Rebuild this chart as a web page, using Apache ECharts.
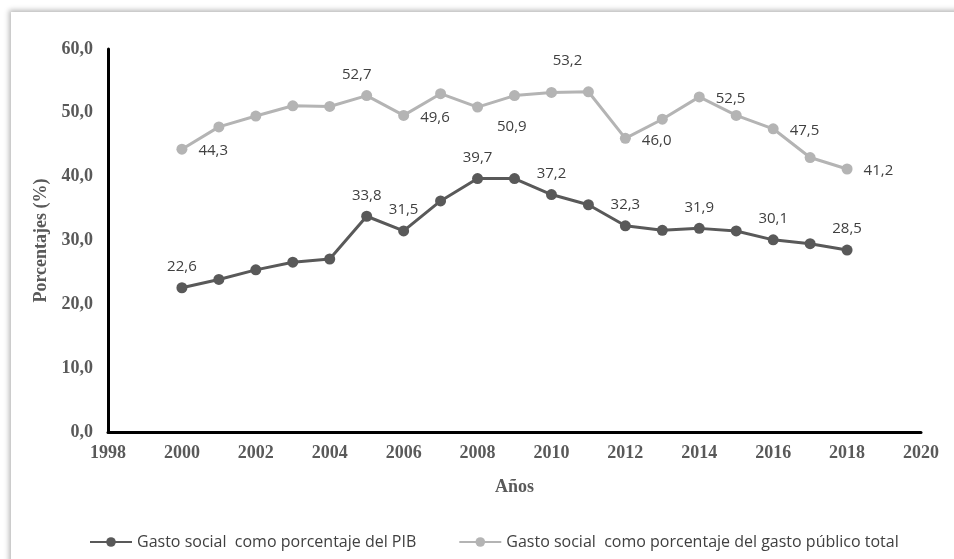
<!DOCTYPE html>
<html>
<head>
<meta charset="utf-8">
<script src="https://cdn.jsdelivr.net/npm/echarts@6/dist/echarts.min.js"></script>
<style>
html,body{margin:0;padding:0;background:#fff;width:954px;height:559px;overflow:hidden;}
#frame{position:absolute;left:11px;top:12px;width:960px;height:560px;box-shadow:-2px -2px 5px rgba(0,0,0,0.28);background:#fff;}
#chart{position:absolute;left:0;top:0;width:954px;height:559px;}
</style>
</head>
<body>
<div id="frame"></div>
<div id="chart"></div>
<script>
var years = [2000,2001,2002,2003,2004,2005,2006,2007,2008,2009,2010,2011,2012,2013,2014,2015,2016,2017,2018];
var gastoPIB = [22.6,23.9,25.4,26.6,27.1,33.8,31.5,36.2,39.7,39.7,37.2,35.6,32.3,31.6,31.9,31.5,30.1,29.5,28.5];
var gastoPublico = [44.3,47.8,49.5,51.1,51.0,52.7,49.6,53.0,50.9,52.7,53.2,53.3,46.0,49.0,52.5,49.6,47.5,43.0,41.2];
var seriesNames = ['Gasto social  como porcentaje del PIB', 'Gasto social  como porcentaje del gasto público total'];
var xTicks = {min:1998, max:2020, interval:2};
var yTicks = {min:0, max:60, interval:10};

function fmt(v){ return v.toFixed(1).replace('.', ','); }

// which points carry labels
var pibLabelYears = [2000,2005,2006,2008,2010,2012,2014,2016,2018];
var pubLabelYears = {2000:'r',2005:'t',2006:'r',2008:'c1',2010:'c2',2012:'r',2014:'r',2016:'r',2018:'r'};

var labelFont = {fontFamily:'Open Sans', fontSize:15, color:'#404040'};

function pibData(){
  return years.map(function(y,i){
    var d = {value:[y, gastoPIB[i]]};
    if (pibLabelYears.indexOf(y) >= 0) {
      d.label = Object.assign({show:true, position:'top', distance:8, formatter:function(p){return fmt(p.value[1]);}}, labelFont);
    }
    return d;
  });
}
function pubData(){
  return years.map(function(y,i){
    var d = {value:[y, gastoPublico[i]]};
    var k = pubLabelYears[y];
    if (k) {
      var l = Object.assign({show:true, formatter:function(p){return fmt(p.value[1]);}}, labelFont);
      if (k === 'r') { l.position = 'right'; l.distance = 11; l.offset = [0,2]; }
      else if (k === 't') { l.position = 'top'; l.distance = 8; l.offset = [-10,0]; }
      else if (k === 'c1') { l.position = 'right'; l.distance = 11; l.offset = [3,20]; }
      else if (k === 'c2') { l.position = 'top'; l.distance = 8; l.offset = [16,-11]; }
      d.label = l;
    }
    return d;
  });
}

var axisLabelStyle = {fontFamily:'Liberation Serif', fontWeight:'bold', fontSize:18, color:'#595959'};

var chart = echarts.init(document.getElementById('chart'), null, {renderer:'canvas'});
chart.setOption({
  backgroundColor:'transparent',
  animation:false,
  grid:{left:108, right:33, top:49, bottom:127, containLabel:false},
  legend:{
    top:529, left:84, itemGap:42, itemWidth:42, itemHeight:12,
    textStyle:{fontFamily:'Open Sans', fontSize:16, color:'#404040'},
    data:seriesNames
  },
  xAxis:{
    type:'value', min:xTicks.min, max:xTicks.max, interval:xTicks.interval,
    name:'Años', nameLocation:'middle', nameGap:46,
    nameTextStyle:{fontFamily:'Liberation Serif', fontWeight:'bold', fontSize:18, color:'#595959'},
    axisLine:{show:true, lineStyle:{color:'#000', width:3}},
    axisTick:{show:false},
    splitLine:{show:false},
    axisLabel:Object.assign({margin:12, formatter:function(v){return String(v);}}, axisLabelStyle)
  },
  yAxis:{
    type:'value', min:yTicks.min, max:yTicks.max, interval:yTicks.interval,
    name:'Porcentajes (%)', nameLocation:'middle', nameGap:56, nameRotate:90,
    nameTextStyle:{fontFamily:'Liberation Serif', fontWeight:'bold', fontSize:18, color:'#595959'},
    axisLine:{show:true, lineStyle:{color:'#000', width:3}},
    axisTick:{show:false},
    splitLine:{show:false},
    axisLabel:Object.assign({margin:15, formatter:function(v){return fmt(v);}}, axisLabelStyle)
  },
  series:[
    {
      name:seriesNames[0], type:'line', data:pibData(),
      symbol:'circle', symbolSize:11,
      lineStyle:{color:'#595959', width:3},
      itemStyle:{color:'#595959'}
    },
    {
      name:seriesNames[1], type:'line', data:pubData(),
      symbol:'circle', symbolSize:11,
      lineStyle:{color:'#b4b4b4', width:3},
      itemStyle:{color:'#b4b4b4'}
    }
  ]
});
</script>
</body>
</html>
